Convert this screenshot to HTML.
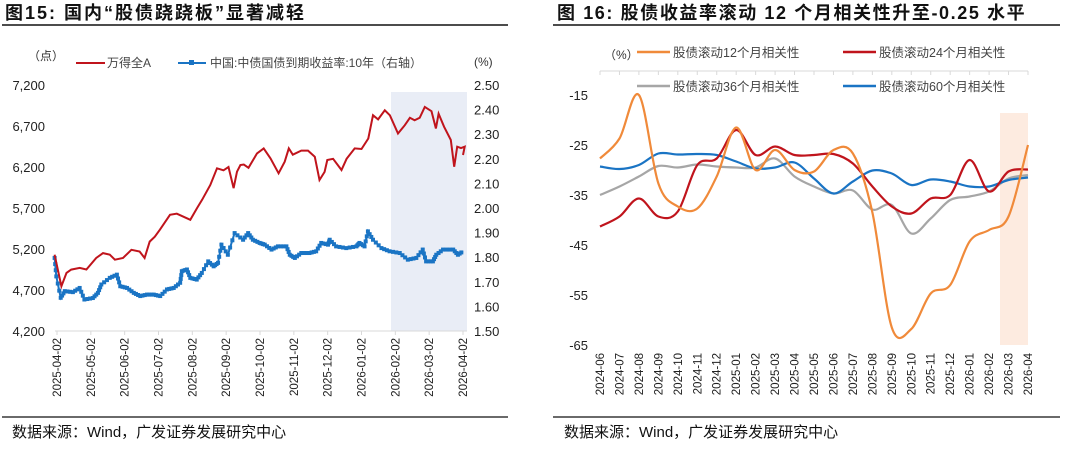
<!DOCTYPE html>
<html><head><meta charset="utf-8">
<style>
body{margin:0;background:#fff;width:1080px;height:450px;overflow:hidden;font-family:"Liberation Sans","Noto Sans CJK SC",sans-serif;}
svg text{font-family:"Liberation Sans","Noto Sans CJK SC",sans-serif;}
</style></head><body>
<svg id="s" width="1080" height="450" xmlns="http://www.w3.org/2000/svg">
<text x="5" y="19" font-size="18" font-weight="bold" fill="#111" letter-spacing="2">图15:  国内“股债跷跷板”显著减轻</text>
<line x1="2" y1="25" x2="508" y2="25" stroke="#111" stroke-width="1.5"/>
<text x="557" y="19" font-size="18" font-weight="bold" fill="#111" letter-spacing="1.6">图 16:  股债收益率滚动 12 个月相关性升至-0.25 水平</text>
<line x1="553" y1="25" x2="1060" y2="25" stroke="#111" stroke-width="1.5"/>
<line x1="2" y1="417" x2="508" y2="417" stroke="#111" stroke-width="1.2"/>
<line x1="553" y1="417" x2="1060" y2="417" stroke="#111" stroke-width="1.2"/>
<text x="12" y="437" font-size="15" fill="#111">数据来源：Wind，广发证券发展研究中心</text>
<text x="564" y="437" font-size="15" fill="#111">数据来源：Wind，广发证券发展研究中心</text>

<g id="L"></g>
<g id="R"></g>
</svg>
<script>
// ---- Left chart data ----
const leftDates=['2025-04-02','2025-05-02','2025-06-02','2025-07-02','2025-08-02','2025-09-02','2025-10-02','2025-11-02','2025-12-02','2026-01-02','2026-02-02','2026-03-02','2026-04-02'];
const leftYTicks=[4200,4700,5200,5700,6200,6700,7200];
const rightYTicks=[1.5,1.6,1.7,1.8,1.9,2.0,2.1,2.2,2.3,2.4,2.5];
const windT=[-0.07,0.13,0.28,0.42,0.67,0.87,1.16,1.36,1.56,1.71,1.95,2.2,2.44,2.59,2.74,2.89,3.04,3.34,3.54,3.94,4.14,4.29,4.53,4.73,4.92,5.07,5.22,5.32,5.42,5.52,5.66,5.91,6.11,6.31,6.55,6.73,6.85,6.97,7.22,7.42,7.62,7.76,7.91,7.99,8.16,8.41,8.56,8.8,9.0,9.2,9.34,9.49,9.69,9.84,10.08,10.28,10.43,10.57,10.72,10.87,11.07,11.2,11.28,11.44,11.64,11.74,11.83,11.94,12.05,12.0];
const windV=[5131,4746,4908,4949,4969,4950,5090,5150,5130,5070,5090,5190,5170,5090,5290,5350,5435,5617,5630,5556,5700,5800,5981,6184,6160,6200,5941,6143,6224,6230,6190,6366,6427,6305,6123,6265,6427,6350,6400,6400,6325,6042,6140,6285,6300,6164,6300,6427,6420,6548,6832,6780,6892,6830,6609,6710,6800,6770,6800,6933,6880,6670,6850,6690,6530,6204,6447,6430,6447,6346];
const bondT=[-0.07,-0.02,0.11,0.23,0.47,0.67,0.81,1.06,1.21,1.31,1.56,1.77,1.87,2.07,2.27,2.46,2.66,2.86,3.05,3.25,3.45,3.64,3.69,3.84,3.94,4.13,4.28,4.47,4.63,4.76,4.86,5.05,5.25,5.5,5.65,5.79,5.99,6.14,6.34,6.53,6.78,6.88,7.03,7.22,7.46,7.66,7.81,8.01,8.06,8.25,8.55,8.85,8.94,9.09,9.19,9.34,9.59,9.83,10.13,10.37,10.62,10.81,10.91,11.11,11.21,11.41,11.71,11.85,12.0];
const bondV=[1.797,1.722,1.635,1.662,1.658,1.675,1.628,1.634,1.655,1.689,1.716,1.729,1.682,1.675,1.655,1.642,1.648,1.648,1.642,1.669,1.675,1.696,1.743,1.750,1.716,1.709,1.736,1.783,1.763,1.777,1.851,1.810,1.898,1.871,1.898,1.871,1.858,1.851,1.831,1.844,1.844,1.810,1.797,1.817,1.817,1.824,1.858,1.851,1.871,1.844,1.837,1.844,1.858,1.844,1.905,1.871,1.837,1.824,1.817,1.790,1.797,1.831,1.783,1.783,1.810,1.831,1.831,1.810,1.824];
// ---- Right chart data ----
const months=['2024-06','2024-07','2024-08','2024-09','2024-10','2024-11','2024-12','2025-01','2025-02','2025-03','2025-04','2025-05','2025-06','2025-07','2025-08','2025-09','2025-10','2025-11','2025-12','2026-01','2026-02','2026-03','2026-04'];
const corrYTicks=[-15,-25,-35,-45,-55,-65];
const corr12=[-27.7,-23.7,-15,-32.7,-37.3,-37.7,-31.3,-21.5,-30,-26,-30,-30.3,-26,-26.7,-38.5,-61.5,-61.8,-54.7,-53,-44.3,-42,-39.3,-25];
const corr24=[-41.3,-39.3,-35.7,-39.3,-38.3,-29,-27.7,-22,-27,-25.3,-27,-27,-26.8,-28.7,-33.3,-37.3,-38.7,-35.7,-35,-28,-34.3,-30.3,-29.9];
const corr36=[-35,-33.3,-31.3,-29.2,-29.5,-28.9,-29.3,-29.5,-29.5,-27.7,-31.3,-33.3,-34.7,-34.1,-37.9,-37,-42.7,-39.7,-36,-35.3,-34.3,-31.7,-31];
const corr60=[-29.3,-29.8,-29,-26.7,-26.9,-26.8,-27,-28.3,-29.7,-29.5,-28.5,-31.7,-34.7,-32.3,-30.1,-30.7,-33,-31.9,-32.3,-33.3,-33.3,-32,-31.5];

const NS='http://www.w3.org/2000/svg';
function mk(p,tag,at,txt){const e=document.createElementNS(NS,tag);for(const k in at)e.setAttribute(k,at[k]);if(txt!=null)e.textContent=txt;p.appendChild(e);return e;}
function smooth(pts){let d='M'+pts[0][0]+','+pts[0][1];for(let i=0;i<pts.length-1;i++){const p0=pts[i-1]||pts[i],p1=pts[i],p2=pts[i+1],p3=pts[i+2]||p2;const c1=[p1[0]+(p2[0]-p0[0])/6,p1[1]+(p2[1]-p0[1])/6],c2=[p2[0]-(p3[0]-p1[0])/6,p2[1]-(p3[1]-p1[1])/6];d+=' C'+c1[0].toFixed(1)+','+c1[1].toFixed(1)+' '+c2[0].toFixed(1)+','+c2[1].toFixed(1)+' '+p2[0].toFixed(1)+','+p2[1].toFixed(1);}return d;}

// Left chart
const L=document.getElementById('L');
const lx=t=>57+t*(463-57)/12;
const ly=v=>331-(v-4200)/3000*246;
const ry=v=>331-(v-1.5)/1.0*246;
let e=mk(L,'rect',{x:391,y:92,width:76,height:239,fill:'#e9edf6'});


e=mk(L,'line',{x1:55,y1:331,x2:467,y2:331,stroke:'#d9d9d9'});


leftYTicks.forEach(v=>{e=mk(L,'text',{x:45,y:ly(v)+5,'font-size':13,'text-anchor':'end',fill:'#222'},v.toLocaleString('en-US'));

});
rightYTicks.forEach(v=>{e=mk(L,'text',{x:474,y:ry(v)+5,'font-size':13,fill:'#222'},v.toFixed(2));

});
leftDates.forEach((d,i)=>{const x=lx(i);mk(L,'line',{x1:x,y1:331,x2:x,y2:335,stroke:'#d9d9d9'});
e=mk(L,'text',{transform:`translate(${x+4},338) rotate(-90)`,'font-size':11.5,'text-anchor':'end',fill:'#222'},d);

});
e=mk(L,'polyline',{points:bondT.map((t,i)=>lx(t).toFixed(1)+','+ry(bondV[i]).toFixed(1)).join(' '),fill:'none',stroke:'#1a74c4','stroke-width':2});


for(let i=0;i<bondT.length-1;i++){for(let k=0;k<3;k++){const f=k/3;const t=bondT[i]+(bondT[i+1]-bondT[i])*f,v=bondV[i]+(bondV[i+1]-bondV[i])*f;mk(L,'rect',{x:lx(t)-2,y:ry(v)-2,width:4,height:4,fill:'#1a74c4'});}}
e=mk(L,'polyline',{points:windT.map((t,i)=>lx(t).toFixed(1)+','+ly(windV[i]).toFixed(1)).join(' '),fill:'none',stroke:'#c0141c','stroke-width':2});


e=mk(L,'text',{x:28,y:60,'font-size':12,fill:'#333'},'（点）');


e=mk(L,'text',{x:474,y:66,'font-size':12,fill:'#333'},'(%)');


mk(L,'line',{x1:76,y1:63,x2:105,y2:63,stroke:'#c0141c','stroke-width':2});
e=mk(L,'text',{x:107,y:67,'font-size':12,fill:'#444'},'万得全A');


mk(L,'line',{x1:178,y1:63,x2:206,y2:63,stroke:'#1a74c4','stroke-width':2});
mk(L,'rect',{x:189,y:60,width:5,height:5,fill:'#1a74c4'});
e=mk(L,'text',{x:210,y:67,'font-size':12,fill:'#444'},'中国:中债国债到期收益率:10年（右轴）');



// Right chart
const R=document.getElementById('R');
const cx=i=>600+i*(1028-600)/22;
const cy=v=>95+(-15-v)*5;
e=mk(R,'rect',{x:1000,y:113,width:28,height:232,fill:'#fdebe0'});


e=mk(R,'line',{x1:600,y1:71,x2:1028,y2:71,stroke:'#d9d9d9'});


months.forEach((m,i)=>{const x=cx(i);mk(R,'line',{x1:x,y1:71,x2:x,y2:75,stroke:'#d9d9d9'});
e=mk(R,'text',{transform:`translate(${x+4},353) rotate(-90)`,'font-size':11.5,'text-anchor':'end',fill:'#222'},m);

});
corrYTicks.forEach(v=>{e=mk(R,'text',{x:588,y:cy(v)+5,'font-size':13,'text-anchor':'end',fill:'#222'},v);

});
const series=[[corr36,'#a6a6a6','corr36-line'],[corr60,'#1a74c4','corr60-line'],[corr24,'#c0141c','corr24-line'],[corr12,'#f08a3a','corr12-line']];
series.forEach(([arr,c,n])=>{e=mk(R,'path',{d:smooth(arr.map((v,i)=>[cx(i),cy(v)])),fill:'none',stroke:c,'stroke-width':2.2});

});
e=mk(R,'text',{x:604,y:59,'font-size':12,fill:'#333'},'（%）');


const leg=[[637,52,'#f08a3a','股债滚动12个月相关性'],[843,52,'#c0141c','股债滚动24个月相关性'],[637,86,'#a6a6a6','股债滚动36个月相关性'],[843,86,'#1a74c4','股债滚动60个月相关性']];
leg.forEach(([x,y,c,t])=>{mk(R,'line',{x1:x,y1:y,x2:x+33,y2:y,stroke:c,'stroke-width':2.5});
e=mk(R,'text',{x:x+36,y:y+5,'font-size':12.5,fill:'#444'},t);

});
</script>
</body></html>
